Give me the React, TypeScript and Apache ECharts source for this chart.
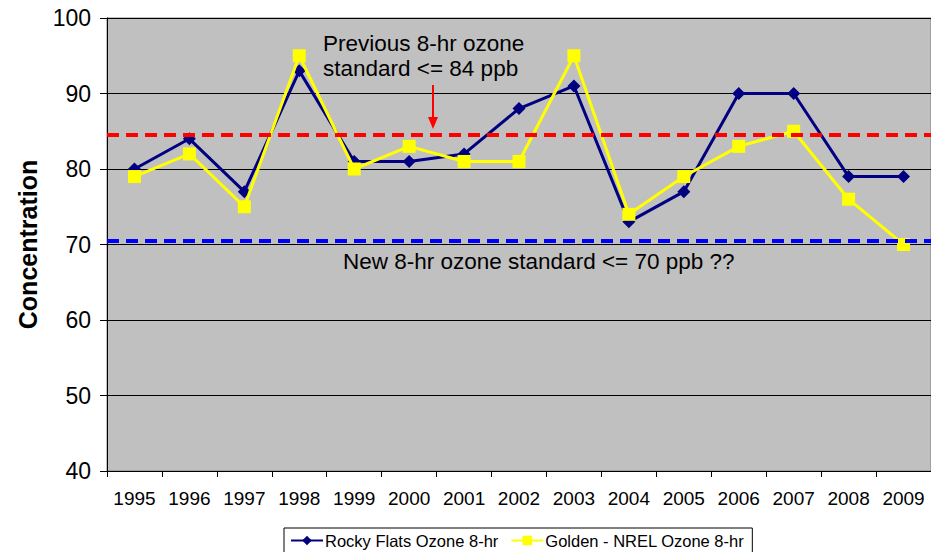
import React, { useEffect, useRef } from "react";
import * as echarts from "echarts";

const years = ["1995","1996","1997","1998","1999","2000","2001","2002","2003","2004","2005","2006","2007","2008","2009"];
const rockyFlats = [80, 84, 77, 93, 81, 81, 82, 88, 91, 73, 77, 90, 90, 79, 79];
const goldenNrel = [79, 82, 75, 95, 80, 83, 81, 81, 95, 74, 79, 83, 85, 76, 70];
const previousStandard = 84.5;
const newStandard = 70.5;
const yTicks = { min: 40, max: 100, interval: 10 };

export default function App() {
  const ref = useRef<HTMLDivElement>(null);
  useEffect(() => {
    if (!ref.current) return;
    const chart = echarts.init(ref.current, undefined, { renderer: "svg" });
    const font = "Liberation Sans, Arial, sans-serif";
    chart.setOption({
      animation: false,
      backgroundColor: "#ffffff",
      textStyle: { fontFamily: font },
      grid: { left: 107, top: 18, right: 0, bottom: 81, show: true, backgroundColor: "#C0C0C0", borderColor: "#808080", borderWidth: 1 },
      xAxis: {
        type: "category",
        data: years,
        boundaryGap: true,
        axisLine: { lineStyle: { color: "#000", width: 1 } },
        axisTick: { show: true, alignWithLabel: false, interval: 0, length: 6, lineStyle: { color: "#000" } },
        axisLabel: { color: "#000", fontSize: 19, fontFamily: font, margin: 18, interval: 0 },
        splitLine: { show: false },
      },
      yAxis: {
        type: "value",
        min: yTicks.min,
        max: yTicks.max,
        interval: yTicks.interval,
        name: "Concentration",
        nameLocation: "middle",
        nameGap: 67,
        nameTextStyle: { fontSize: 25, fontWeight: "bold", color: "#000", fontFamily: font },
        axisLine: { show: true, lineStyle: { color: "#000", width: 1 } },
        axisTick: { show: true, length: 7, lineStyle: { color: "#000" } },
        axisLabel: { color: "#000", fontSize: 23, fontFamily: font, margin: 16 },
        splitLine: { show: true, lineStyle: { color: "#000", width: 1 } },
      },
      legend: {
        left: 284,
        top: 528,
        data: ["Rocky Flats Ozone 8-hr", "Golden - NREL Ozone 8-hr"],
        backgroundColor: "#fff",
        borderColor: "#000",
        borderWidth: 1,
        borderRadius: 0,
        padding: [4, 8, 6, 6],
        itemGap: 12,
        itemWidth: 32,
        itemHeight: 12,
        textStyle: { color: "#000", fontSize: 16.5, fontFamily: font, padding: [0, 0, 0, -3] },
      },
      series: [
        {
          name: "Rocky Flats Ozone 8-hr",
          type: "line",
          data: rockyFlats,
          symbol: "diamond",
          symbolSize: 13,
          lineStyle: { color: "#000080", width: 3 },
          itemStyle: { color: "#000080" },
          z: 3,
          markLine: {
            silent: true,
            symbol: "none",
            label: { show: false },
            data: [
              { yAxis: previousStandard, lineStyle: { color: "#FF0000", type: [12, 7], width: 4 } },
              { yAxis: newStandard, lineStyle: { color: "#0000FF", type: [12, 7], width: 4 } },
            ],
          },
        },
        {
          name: "Golden - NREL Ozone 8-hr",
          type: "line",
          data: goldenNrel,
          symbol: "rect",
          symbolSize: 13,
          lineStyle: { color: "#FFFF00", width: 3 },
          itemStyle: { color: "#FFFF00" },
          z: 4,
        },
      ],
      graphic: [
        {
          type: "text",
          left: 323,
          top: 31,
          style: {
            text: "Previous 8-hr ozone\nstandard <= 84 ppb",
            font: `22.5px ${font}`,
            fill: "#000",
            lineHeight: 25,
          },
          z: 10,
        },
        {
          type: "line",
          shape: { x1: 433, y1: 85, x2: 433, y2: 120 },
          style: { stroke: "#FF0000", lineWidth: 2 },
          z: 10,
        },
        {
          type: "polygon",
          shape: { points: [[428, 117], [438, 117], [433, 129]] },
          style: { fill: "#FF0000" },
          z: 10,
        },
        {
          type: "text",
          left: 343,
          top: 250,
          style: {
            text: "New 8-hr ozone standard <= 70 ppb ??",
            font: `22.5px ${font}`,
            fill: "#000",
          },
          z: 10,
        },
      ],
    });
    return () => chart.dispose();
  }, []);
  return <div ref={ref} style={{ width: 931, height: 552, position: "absolute", left: 0, top: 0 }} />;
}
